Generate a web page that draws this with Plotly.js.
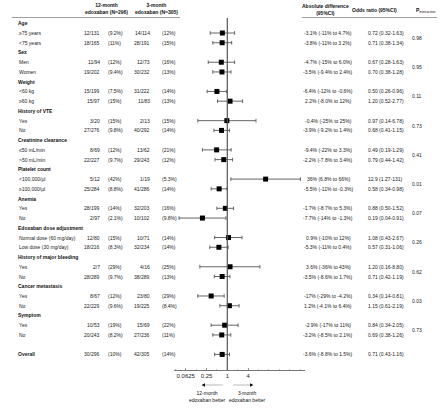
<!DOCTYPE html>
<html>
<head>
<meta charset="utf-8">
<script src="https://cdn.plot.ly/plotly-3.0.1.min.js"></script>
<style>html,body{margin:0;padding:0;background:#fff;}#chart{width:440px;height:411px;}</style>
</head>
<body>
<div id="chart"></div>
<script>
const groups = ['Age','Sex','Weight','History of VTE','Creatinine clearance','Platelet count','Anemia','Edoxaban dose adjustment','History of major bleeding','Cancer metastasis','Symptom'];
const pInteraction = ['0.98','0.95','0.11','0.73','0.41','0.01','0.07','0.26','0.62','0.03','0.73'];
const subgroups = ['≥75 years','<75 years','Men','Women','<60 kg','≥60 kg','Yes','No','≤50 mL/min','>50 mL/min','<100,000/µl','≥100,000/µl','Yes','No','Normal dose (60 mg/day)','Low dose (30 mg/day)','Yes','No','Yes','No','Yes','No','Overall'];
const events12 = [12,18,11,19,15,15,3,27,8,22,5,25,28,2,12,18,2,28,8,22,10,20,30];
const total12 = [131,165,94,202,199,97,20,276,69,227,12,284,199,97,80,216,7,289,67,229,53,243,296];
const pct12 = ['9.2%','11%','12%','9.4%','7.5%','15%','15%','9.8%','12%','9.7%','42%','8.8%','14%','2.1%','15%','8.3%','29%','9.7%','12%','9.6%','19%','8.2%','10%'];
const events3 = [14,28,12,30,31,11,2,40,13,29,1,41,32,10,10,32,4,38,23,19,15,27,42];
const total3 = [114,191,73,232,222,83,13,292,62,243,19,286,203,102,71,234,16,289,80,225,69,236,305];
const pct3 = ['12%','15%','16%','13%','14%','13%','15%','14%','21%','12%','5.3%','14%','16%','9.8%','14%','14%','25%','13%','29%','8.4%','22%','11%','14%'];
const absDiff = ['-3.1% (-11% to 4.7%)','-3.8% (-11% to 3.2%)','-4.7% (-15% to 6.0%)','-3.5% (-9.4% to 2.4%)','-6.4% (-12% to -0.6%)','2.2% (-8.0% to 12%)','-0.4% (-25% to 25%)','-3.9% (-9.2% to 1.4%)','-9.4% (-22% to 3.3%)','-2.2% (-7.8% to 3.4%)','36% (6.8% to 66%)','-5.5% (-11% to -0.3%)','-1.7% (-8.7% to 5.3%)','-7.7% (-14% to -1.3%)','0.9% (-10% to 12%)','-5.3% (-11% to 0.4%)','3.6% (-36% to 43%)','-3.5% (-8.6% to 1.7%)','-17% (-29% to -4.2%)','1.2% (-4.1% to 6.4%)','-2.9% (-17% to 11%)','-3.2% (-8.5% to 2.1%)','-3.6% (-8.8% to 1.5%)'];
const oddsRatio = [0.72,0.71,0.67,0.70,0.50,1.20,0.97,0.68,0.49,0.79,12.9,0.58,0.88,0.19,1.08,0.57,1.20,0.71,0.34,1.15,0.84,0.69,0.71];
const ciLow = [0.32,0.38,0.28,0.38,0.26,0.52,0.14,0.41,0.19,0.44,1.27,0.34,0.50,0.04,0.43,0.31,0.16,0.42,0.14,0.61,0.34,0.38,0.43];
const ciHigh = [1.63,1.34,1.63,1.28,0.96,2.77,6.78,1.15,1.29,1.42,131,0.98,1.52,0.91,2.67,1.06,8.80,1.19,0.81,2.19,2.05,1.26,1.16];
const tickValues = [0.0625,0.25,1,4];
const tickLabels = ['0.0625','0.25','1','4'];
const minorTickValues = [1/32,1/8,1/2,2,8,16,32,64,128];

const W = 440, H = 411;
const FONT = 'Liberation Sans, Arial, sans-serif';
const TXT = '#222';
const px = x => x / W;
const py = y => 1 - y / H;

const rowOf = i => i === subgroups.length - 1 ? 34 : 3 * Math.floor(i / 2) + 1 + (i % 2);
const rows = subgroups.map((_, i) => rowOf(i));
const fmt = v => v >= 10 ? String(v) : v.toFixed(2);

const ann = [];
function t(text, x, y, anchor, opts) {
  ann.push(Object.assign({text: text, x: px(x), xref: 'paper', y: y, yref: 'y', xanchor: anchor, yanchor: 'middle',
    showarrow: false, font: {family: FONT, size: 5, color: TXT}}, opts || {}));
}
groups.forEach((g, k) => {
  t('<b>' + g + '</b>', 15.5, 3 * k, 'left', {font: {family: FONT, size: 5, color: '#111'}});
  t(pInteraction[k], 417, 3 * k + 1.5, 'center');
});
subgroups.forEach((s, i) => {
  const r = rows[i];
  const isOverall = i === subgroups.length - 1;
  t(isOverall ? '<b>' + s + '</b>' : s, isOverall ? 15.5 : 17, r, 'left');
  t(events12[i] + '/' + total12[i], 101.5, r, 'right');
  t('(' + pct12[i] + ')', 106, r, 'left');
  t(events3[i] + '/' + total3[i], 151.5, r, 'right');
  t('(' + pct3[i] + ')', 160, r, 'left');
  t(absDiff[i], 328, r, 'center');
  t(fmt(oddsRatio[i]) + ' (' + fmt(ciLow[i]) + '-' + fmt(ciHigh[i]) + ')', 366, r, 'left');
});
function h(text, x, y, anchor, size) {
  ann.push({text: text, x: px(x), xref: 'paper', y: py(y), yref: 'paper', xanchor: anchor, yanchor: 'middle',
    showarrow: false, font: {family: FONT, size: size || 5, color: '#111'}});
}
h('<b>12-month<br>edoxaban (N=296)</b>', 106, 9, 'center');
h('<b>3-month<br>edoxaban (N=305)</b>', 156, 9, 'center');
h('<b>Absolute difference<br>(95%CI)</b>', 325, 9.5, 'center');
h('<b>Odds ratio (95%CI)</b>', 374, 10, 'center');
h('<b>P</b><sub>interaction</sub>', 414, 10.5, 'left');
h('12-month<br>edoxaban better', 207, 396, 'center', 5);
h('3-month<br>edoxaban better', 247, 396, 'center', 5);

const tri = (pts) => 'M ' + pts.map(p => px(p[0]).toFixed(5) + ',' + py(p[1]).toFixed(5)).join(' L ') + ' Z';
const shapes = [
  {type: 'line', xref: 'x', yref: 'paper', x0: 1, x1: 1, y0: py(370), y1: py(18), line: {color: '#555', width: 1.2}},
  {type: 'line', xref: 'paper', yref: 'paper', x0: px(11.7), x1: px(180), y0: py(17.5), y1: py(17.5), line: {color: '#888', width: 0.8}},
  {type: 'line', xref: 'paper', yref: 'paper', x0: px(301.7), x1: px(437), y0: py(17.5), y1: py(17.5), line: {color: '#888', width: 0.8}},
  {type: 'line', xref: 'paper', yref: 'paper', x0: px(204), x1: px(222.7), y0: py(385), y1: py(385), line: {color: '#bbb', width: 1}},
  {type: 'line', xref: 'paper', yref: 'paper', x0: px(233), x1: px(251), y0: py(385), y1: py(385), line: {color: '#bbb', width: 1}},
  {type: 'path', xref: 'paper', yref: 'paper', path: tri([[201.5, 385], [205, 383.3], [205, 386.7]]), fillcolor: '#111', line: {width: 0}},
  {type: 'path', xref: 'paper', yref: 'paper', path: tri([[253.5, 385], [250, 383.3], [250, 386.7]]), fillcolor: '#111', line: {width: 0}}
];

const trace = {
  type: 'scatter', mode: 'markers',
  x: oddsRatio, y: rows,
  marker: {symbol: 'square', size: 5, color: '#000'},
  error_x: {type: 'data', symmetric: false,
    array: oddsRatio.map((v, i) => ciHigh[i] - v),
    arrayminus: oddsRatio.map((v, i) => v - ciLow[i]),
    color: '#555', thickness: 0.9, width: 1.8},
  hoverinfo: 'skip', cliponaxis: false
};

const layout = {
  width: W, height: H,
  margin: {l: 0, r: 0, t: 0, b: 0},
  paper_bgcolor: '#fff', plot_bgcolor: '#fff',
  showlegend: false,
  font: {family: FONT, color: TXT},
  xaxis: {type: 'log', domain: [px(174), px(305)], range: [-1.545, 2.252],
    showline: true, linecolor: '#777', linewidth: 1,
    ticks: 'inside', ticklen: 2.5, tickcolor: '#777', tickwidth: 0.8,
    tickmode: 'array', tickvals: tickValues, ticktext: tickLabels,
    minor: {tickmode: 'array', tickvals: minorTickValues, ticks: 'inside', ticklen: 1.5, tickcolor: '#999', tickwidth: 0.6},
    tickfont: {family: FONT, size: 6, color: '#222'},
    showgrid: false, zeroline: false, fixedrange: true, anchor: 'y'},
  yaxis: {domain: [py(370), py(18)], range: [35.6, -0.54], visible: false,
    showgrid: false, zeroline: false, fixedrange: true},
  annotations: ann,
  shapes: shapes
};

Plotly.newPlot('chart', [trace], layout, {staticPlot: true, displayModeBar: false});
</script>
</body>
</html>
